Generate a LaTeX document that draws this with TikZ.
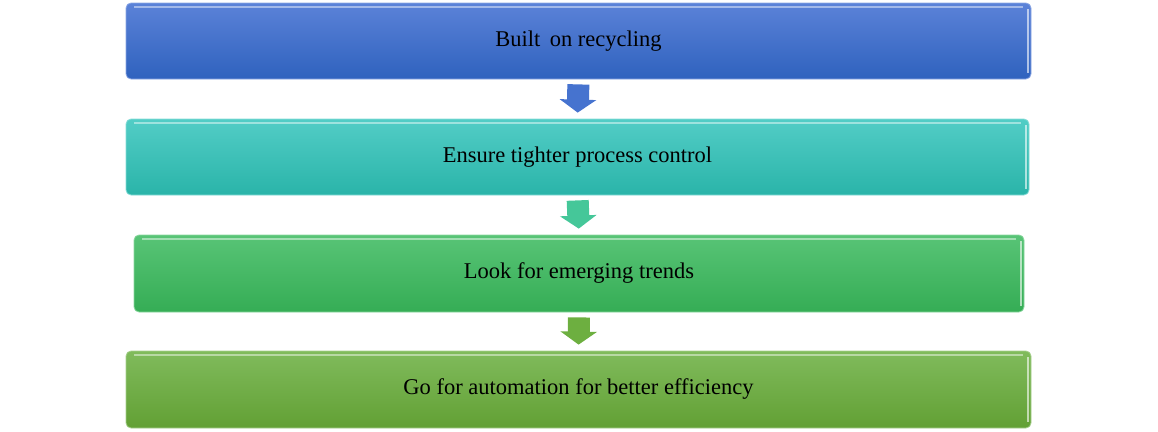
\documentclass[tikz,border=0pt]{standalone}
\usepackage{fontspec}
\setmainfont{Liberation Serif}
\usepackage{tikz}
\usetikzlibrary{arrows.meta}
\definecolor{blueTop}{HTML}{5B82D8}
\definecolor{blueBot}{HTML}{2F62BE}
\definecolor{tealTop}{HTML}{52CDC6}
\definecolor{tealBot}{HTML}{2AB4A9}
\definecolor{grnTop}{HTML}{58C476}
\definecolor{grnBot}{HTML}{35AD55}
\definecolor{limeTop}{HTML}{80BB5C}
\definecolor{limeBot}{HTML}{62A034}
\definecolor{arrBlue}{HTML}{4673CF}
\definecolor{arrTeal}{HTML}{45C799}
\definecolor{arrLime}{HTML}{6DAF40}
\tikzstyle{stagebox}=[rounded corners=5pt,inner sep=0pt,
                      minimum height=76pt,font=\fontsize{22.5}{27}\selectfont,
                      text=black,line width=0.8pt,
                      path picture={
                        \draw[white,opacity=0.45,line width=2pt]
                          ([xshift=8pt,yshift=-4pt]path picture bounding box.north west) --
                          ([xshift=-8pt,yshift=-4pt]path picture bounding box.north east);
                        \draw[white,opacity=0.6,line width=1.2pt]
                          ([xshift=-3pt,yshift=-6pt]path picture bounding box.north east) --
                          ([xshift=-3pt,yshift=6pt]path picture bounding box.south east);}]
\tikzstyle{downarrow}=[line width=22pt,
                       -{Triangle[width=36pt,length=13pt]},
                       shorten <=5pt,shorten >=6pt]

\begin{document}
\begin{tikzpicture}[x=1pt,y=-1pt]
    \useasboundingbox (0,0) rectangle (1158,431);
    \node (b1) at (578.5, 41) [stagebox,minimum width=905pt,draw=blueTop!70!white,
          top color=blueTop,bottom color=blueBot]{Built\, on recycling};
    \node (b2) at (577.5,157) [stagebox,minimum width=903pt,draw=tealTop!70!white,
          top color=tealTop,bottom color=tealBot]{Ensure tighter process control};
    \node (b3) at (579,273.5) [stagebox,minimum width=890pt,minimum height=77pt,
          draw=grnTop!70!white,top color=grnTop,bottom color=grnBot]{Look for emerging trends};
    \node (b4) at (578.5,389.5) [stagebox,minimum width=905pt,minimum height=77pt,
          draw=limeTop!70!white,top color=limeTop,bottom color=limeBot]{Go for automation for better efficiency};
    \draw[downarrow,arrBlue] (b1.south) -- (b2.north);
    \draw[downarrow,arrTeal] (b2.south) -- (b3.north);
    \draw[downarrow,arrLime] (b3.south) -- (b4.north);
  \end{tikzpicture}
\end{document}
